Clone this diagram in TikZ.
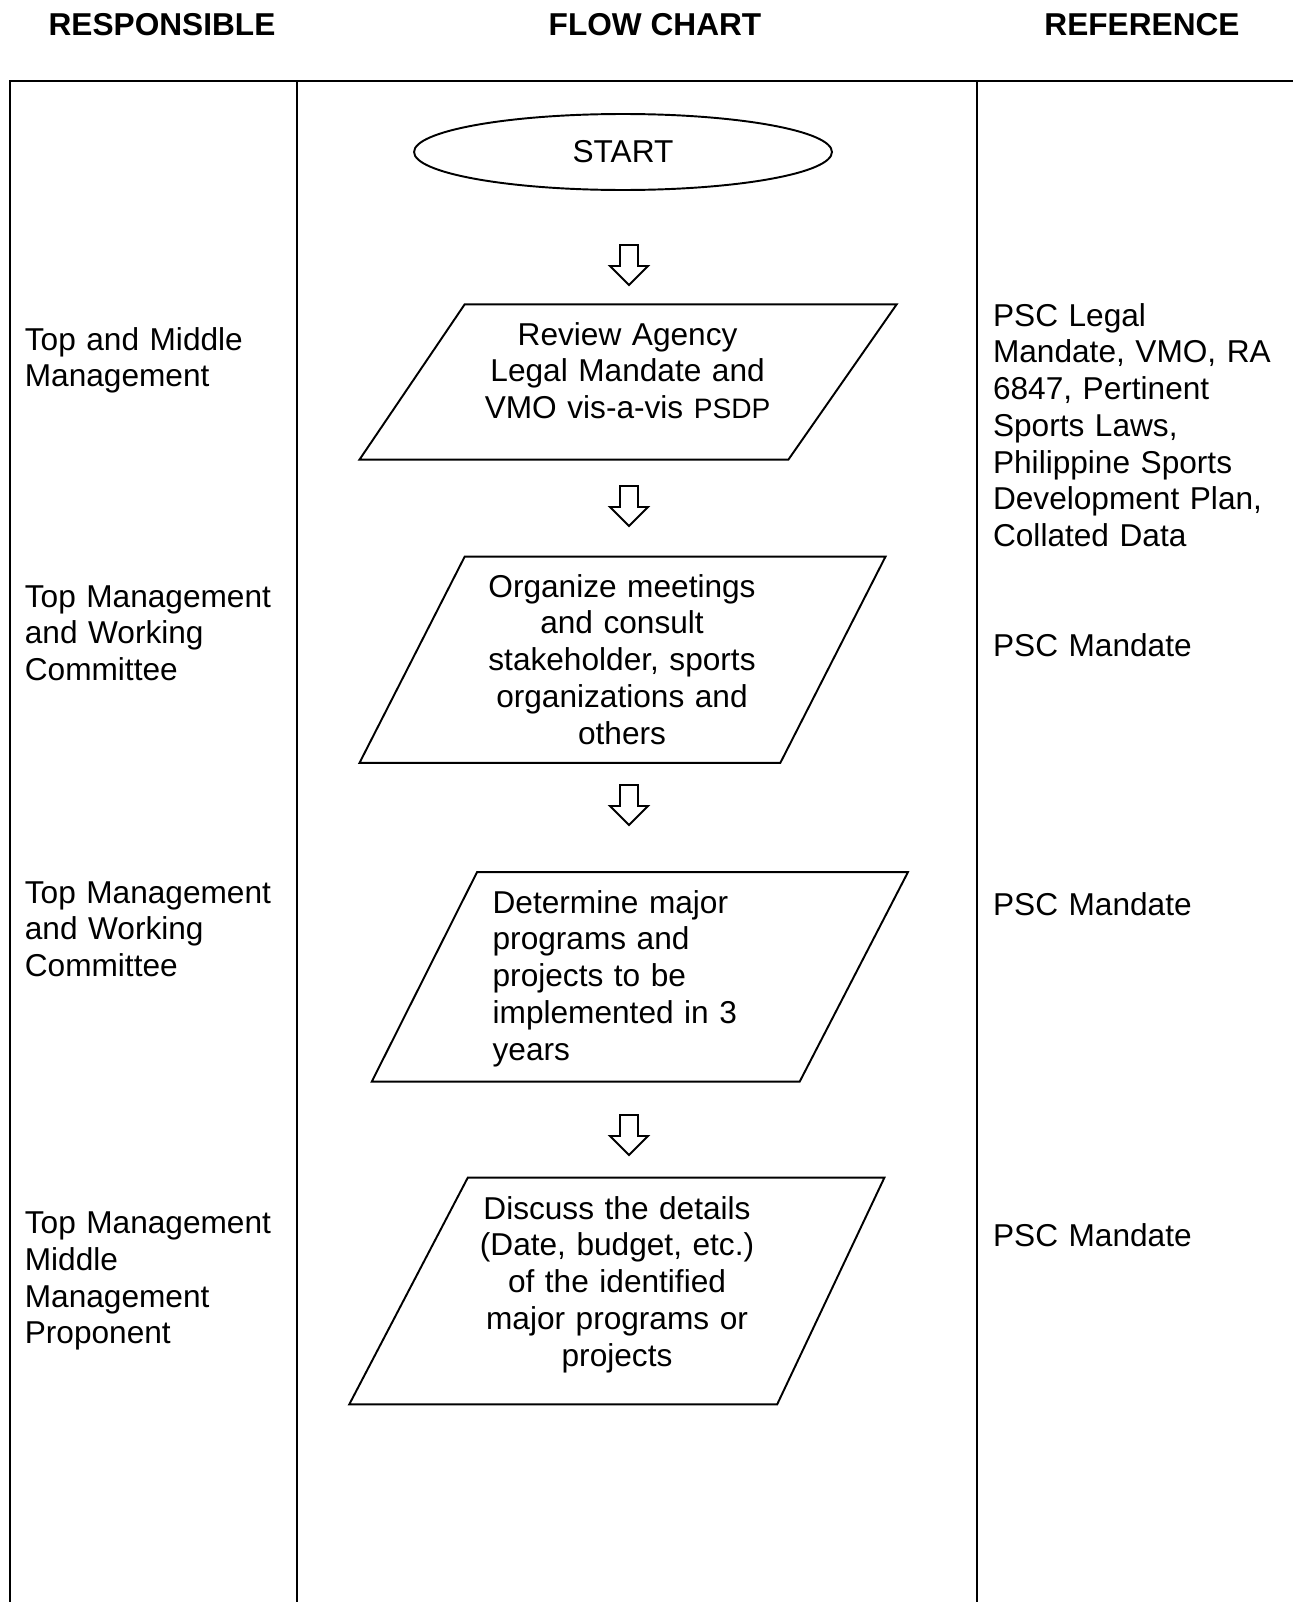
\documentclass[tikz,border=0pt]{standalone}
\usepackage{fontspec}
\setmainfont{Liberation Sans}
\usetikzlibrary{shapes.geometric}
\tikzset{
  frame/.style={line width=1.1pt},
  shapeline/.style={line width=1.1pt, line join=miter},
  txt/.style={font=\fontsize{18pt}{20.92pt}\selectfont, inner sep=0pt},
  head/.style={font=\fontsize{18pt}{20.92pt}\selectfont\bfseries, inner sep=0pt},
  lefttxt/.style={txt, anchor=base west, text width=6cm, align=left},
  midtxt/.style={txt, anchor=base, text width=8cm, align=center},
  pics/downarrow/.style={code={
    \draw[shapeline] (-9,0) -- (9,0) -- (9,21) -- (19,21) -- (0,40)
      -- (-19,21) -- (-9,21) -- cycle;}}
}
\begin{document}
\begin{tikzpicture}[x=0.02cm, y=-0.02cm]
\useasboundingbox (0,0) rectangle (1293,1602);

% table frame
\draw[frame] (10,1602) -- (10,81) -- (1293,81);
\draw[frame] (297,81) -- (297,1602);
\draw[frame] (977,81) -- (977,1602);

% column headings
\node[head, anchor=base] (hresp) at (162,36) {RESPONSIBLE};
\node[head, anchor=base] (hflow) at (655,36) {FLOW CHART};
\node[head, anchor=base] (href) at (1142,36) {REFERENCE};

% start terminal
\node[draw, ellipse, shapeline, txt, minimum width=8.36cm, minimum height=1.52cm]
  (start) at (623,152) {START};

% process boxes
\draw[shapeline] (464.7,304.3) -- (896.7,304.3) -- (788.4,459.6) -- (359.5,459.6) -- cycle;
\draw[shapeline] (464.7,556.6) -- (885.5,556.6) -- (780.3,762.9) -- (359.5,762.9) -- cycle;
\draw[shapeline] (477.0,872.2) -- (907.9,872.2) -- (799.7,1081.6) -- (371.8,1081.6) -- cycle;
\draw[shapeline] (467.8,1177.6) -- (884.4,1177.6) -- (777.2,1404.3) -- (349.3,1404.3) -- cycle;

\node[midtxt] (p1) at (627.6,345)
  {Review Agency\\Legal Mandate and\\VMO vis-a-vis {\fontsize{16pt}{20.92pt}\selectfont PSDP}};
\node[midtxt] (p2) at (622,597)
  {Organize meetings\\and consult\\stakeholder, sports\\organizations and\\others};
\node[lefttxt] (p3) at (492.3,913)
  {Determine major\\programs and\\projects to be\\implemented in 3\\years};
\node[midtxt] (p4) at (617,1219)
  {Discuss the details\\(Date, budget, etc.)\\of the identified\\major programs or\\projects};

% block arrows between steps
\pic at (629,245) {downarrow};
\pic at (629,486) {downarrow};
\pic at (629,785) {downarrow};
\pic at (629,1115) {downarrow};

% responsible parties
\node[lefttxt] (r1) at (24.5,350) {Top and Middle\\Management};
\node[lefttxt] (r2) at (24.5,607) {Top Management\\and Working\\Committee};
\node[lefttxt] (r3) at (24.5,903) {Top Management\\and Working\\Committee};
\node[lefttxt] (r4) at (24.5,1233.5) {Top Management\\Middle\\Management\\Proponent};

% references
\node[lefttxt] (f1) at (992.7,326)
  {PSC Legal\\Mandate, VMO, RA\\6847, Pertinent\\Sports Laws,\\Philippine Sports\\Development Plan,\\Collated Data};
\node[lefttxt] (f2) at (992.7,656.5) {PSC Mandate};
\node[lefttxt] (f3) at (992.7,915) {PSC Mandate};
\node[lefttxt] (f4) at (992.7,1246) {PSC Mandate};
\end{tikzpicture}
\end{document}
